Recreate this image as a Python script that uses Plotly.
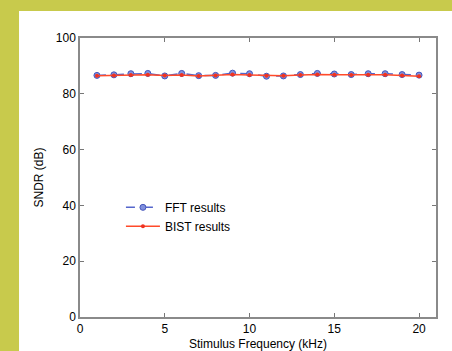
import plotly.graph_objects as go

freq_khz = [1, 2, 3, 4, 5, 6, 7, 8, 9, 10, 11, 12, 13, 14, 15, 16, 17, 18, 19, 20]
fft_sndr = [86.6, 86.8, 87.2, 87.3, 86.4, 87.3, 86.5, 86.6, 87.4, 87.2,
            86.3, 86.4, 86.9, 87.3, 87.1, 86.9, 87.2, 87.2, 86.9, 86.7]
bist_sndr = [86.5, 86.6, 86.7, 86.8, 86.6, 86.7, 86.4, 86.6, 86.9, 86.7,
             86.5, 86.5, 86.7, 86.9, 86.8, 86.7, 86.8, 86.8, 86.6, 86.3]
x_ticks = [0, 5, 10, 15, 20]
y_ticks = [0, 20, 40, 60, 80, 100]

fig = go.Figure()
fig.add_trace(go.Scatter(
    x=freq_khz, y=fft_sndr, name="FFT results", mode="lines+markers",
    line=dict(color="#5566cc", width=1.5, dash="dash"),
    marker=dict(symbol="circle", size=6, color="#8090dd",
                line=dict(color="#4455bb", width=1)),
))
fig.add_trace(go.Scatter(
    x=freq_khz, y=bist_sndr, name="BIST results", mode="lines+markers",
    line=dict(color="#ff4a2a", width=1.5),
    marker=dict(symbol="circle", size=4, color="#ee3322"),
))

font_family = "Liberation Sans, Arial, sans-serif"
axis_common = dict(
    showline=True, linecolor="#8a8a8a", linewidth=1.5, mirror="ticks",
    ticks="inside", ticklen=4, tickcolor="#777", tickwidth=1,
    showgrid=False, zeroline=False, automargin=False,
    tickfont=dict(family=font_family, size=12, color="#000"),
)

fig.update_layout(
    width=452, height=351,
    margin=dict(l=80, r=16, t=38, b=34, autoexpand=False),
    paper_bgcolor="white",
    plot_bgcolor="white",
    font=dict(family=font_family, size=12, color="#000"),
    showlegend=True,
    legend=dict(x=0.115, y=0.445, xanchor="left", yanchor="top",
                bgcolor="rgba(0,0,0,0)", font=dict(size=12, color="#000"),
                itemwidth=34),
    xaxis=dict(range=[0, 21], tickvals=x_ticks, ticktext=[str(v) for v in x_ticks],
               title=dict(text="Stimulus Frequency (kHz)", standoff=6,
                          font=dict(size=12, color="#000")),
               **axis_common),
    yaxis=dict(range=[0, 100], tickvals=y_ticks,
               title=dict(text="SNDR (dB)", standoff=10,
                          font=dict(size=12, color="#000")),
               **axis_common),
    shapes=[
        dict(type="rect", xref="paper", yref="paper",
             x0=-0.25, x1=-0.1713, y0=-0.2, y1=1.2,
             fillcolor="#c8ca4c", line=dict(width=0), layer="below"),
        dict(type="rect", xref="paper", yref="paper",
             x0=-0.25, x1=1.1, y0=1.0968, y1=1.2,
             fillcolor="#c8ca4c", line=dict(width=0), layer="below"),
    ],
)

fig.write_html("out.html", config={"displayModeBar": False},
               post_script="document.body.style.margin='0';document.body.style.padding='0';")
